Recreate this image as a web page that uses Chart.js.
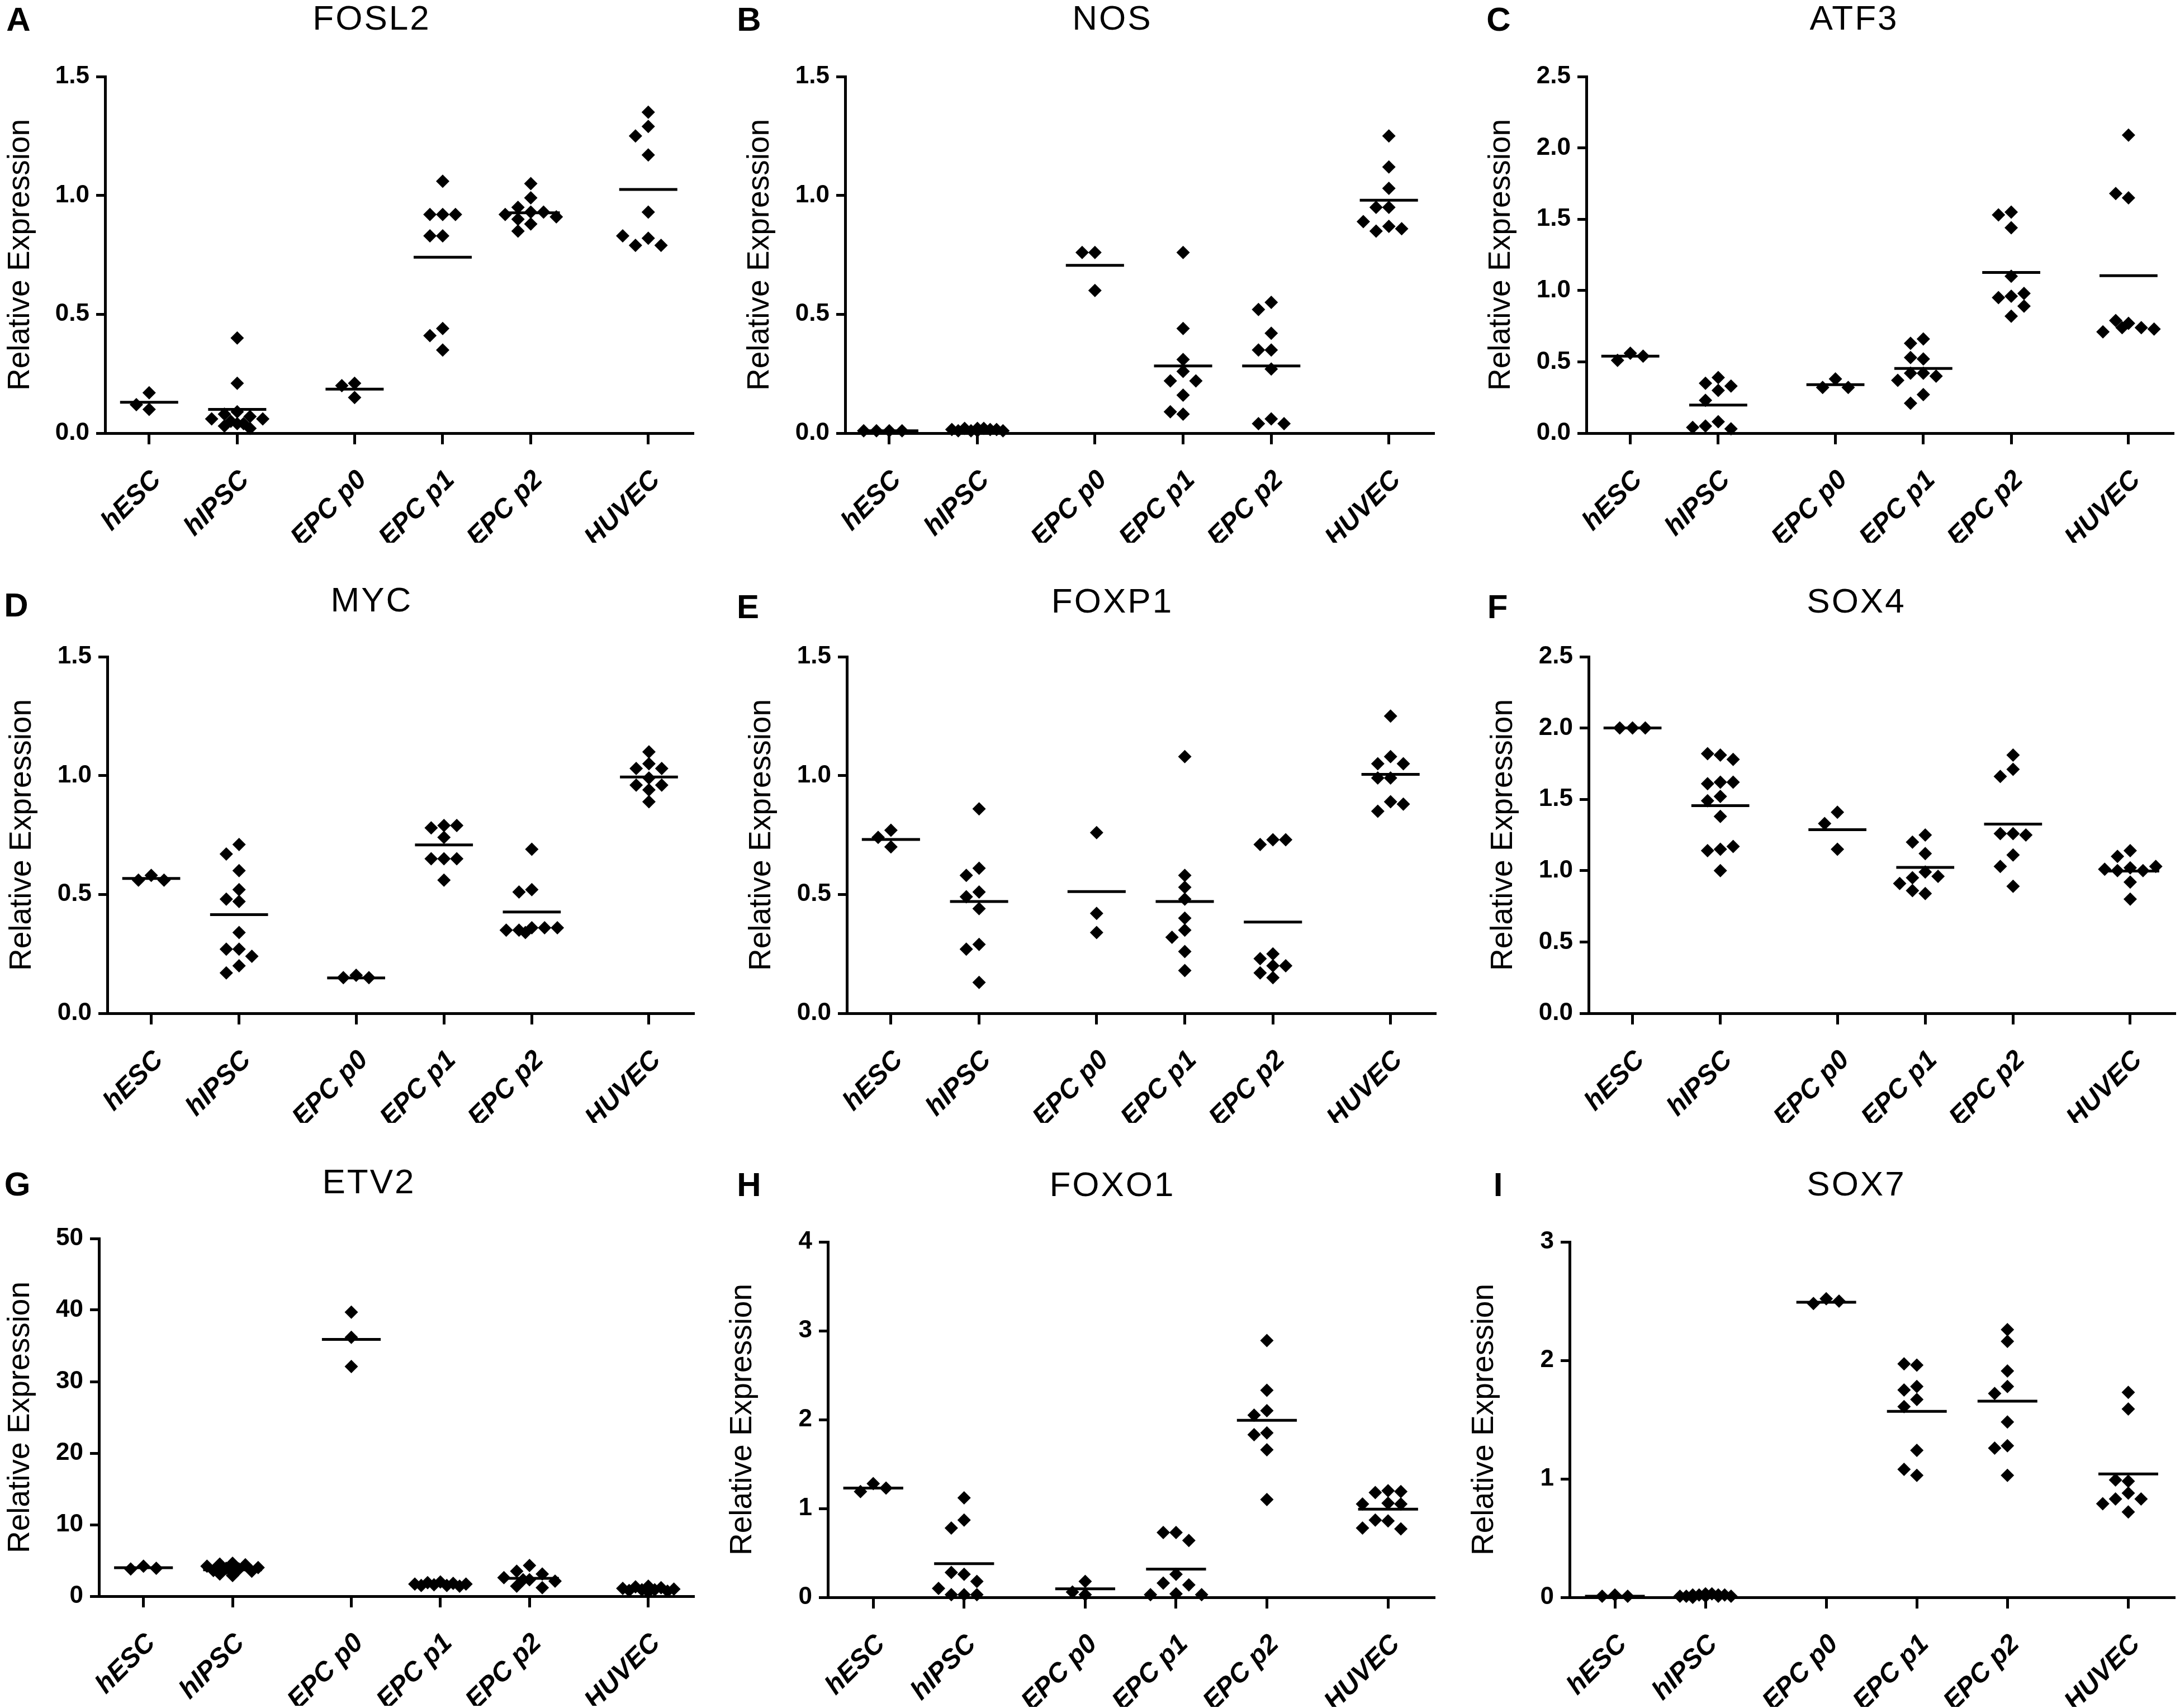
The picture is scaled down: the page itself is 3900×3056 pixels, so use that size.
<!DOCTYPE html>
<html>
<head>
<meta charset="utf-8">
<script src="https://cdn.jsdelivr.net/npm/chart.js@4.4.1/dist/chart.umd.min.js"></script>
<style>
  html, body { margin: 0; padding: 0; background: #fff; }
  body { width: 3900px; height: 3056px; position: relative; overflow: hidden; }
  canvas { position: absolute; }
  .ttl { position: absolute; transform: translate(-50%, -50%); font-family: "Liberation Sans", Arial, sans-serif;
         font-size: 62px; letter-spacing: 3px; color: #000; white-space: nowrap; }
  .lbl { position: absolute; transform: translate(-50%, -50%); font-family: "Liberation Sans", Arial, sans-serif;
         font-size: 60px; font-weight: bold; color: #000; }
</style>
</head>
<body>
<script>
// ---------------- DATA ----------------
const categories = ["hESC", "hIPSC", "EPC p0", "EPC p1", "EPC p2", "HUVEC"];
const geneNames = ["FOSL2", "NOS", "ATF3", "MYC", "FOXP1", "SOX4", "ETV2", "FOXO1", "SOX7"];
const panelLetters = ["A", "B", "C", "D", "E", "F", "G", "H", "I"];
const yAxisTitle = "Relative Expression";

const ticks15 = ["0.0", "0.5", "1.0", "1.5"];
const ticks25 = ["0.0", "0.5", "1.0", "1.5", "2.0", "2.5"];
const ticks50 = ["0", "10", "20", "30", "40", "50"];
const ticks4 = ["0", "1", "2", "3", "4"];
const ticks3 = ["0", "1", "2", "3"];

const FOSL2 = [
  [0.17, 0.10, 0.12],
  [0.40, 0.21, 0.09, 0.08, 0.07, 0.06, 0.06, 0.05, 0.04, 0.04, 0.03, 0.02],
  [0.21, 0.20, 0.15],
  [1.06, 0.92, 0.92, 0.92, 0.83, 0.83, 0.44, 0.41, 0.35],
  [1.05, 0.99, 0.95, 0.93, 0.93, 0.92, 0.91, 0.90, 0.88, 0.85],
  [1.35, 1.29, 1.25, 1.17, 0.93, 0.82, 0.79, 0.79, 0.83]
];
const FOSL2_mean = [0.13, 0.10, 0.185, 0.74, 0.927, 1.025];

const NOS = [
  [0.01, 0.01, 0.01, 0.01],
  [0.02, 0.02, 0.015, 0.015, 0.01, 0.01, 0.02, 0.01, 0.015, 0.01],
  [0.76, 0.76, 0.60],
  [0.76, 0.44, 0.31, 0.26, 0.22, 0.22, 0.16, 0.08, 0.09],
  [0.55, 0.52, 0.42, 0.35, 0.35, 0.27, 0.06, 0.04, 0.04],
  [1.25, 1.12, 1.03, 0.95, 0.95, 0.87, 0.85, 0.86, 0.89]
];
const NOS_mean = [0.01, 0.015, 0.706, 0.283, 0.283, 0.98];

const ATF3 = [
  [0.56, 0.51, 0.54],
  [0.39, 0.35, 0.30, 0.33, 0.23, 0.08, 0.05, 0.03, 0.04],
  [0.38, 0.32, 0.32],
  [0.66, 0.63, 0.52, 0.53, 0.42, 0.42, 0.40, 0.37, 0.27, 0.21],
  [1.55, 1.53, 1.44, 1.10, 0.96, 0.95, 0.98, 0.89, 0.82],
  [2.09, 1.65, 1.68, 0.77, 0.79, 0.74, 0.71, 0.73, 0.74]
];
const ATF3_mean = [0.54, 0.197, 0.34, 0.454, 1.127, 1.104];

const MYC = [
  [0.58, 0.56, 0.56],
  [0.71, 0.67, 0.60, 0.52, 0.48, 0.47, 0.34, 0.27, 0.27, 0.24, 0.20, 0.17],
  [0.16, 0.15, 0.15],
  [0.79, 0.78, 0.79, 0.74, 0.65, 0.65, 0.65, 0.56],
  [0.69, 0.52, 0.51, 0.36, 0.35, 0.36, 0.35, 0.36, 0.34],
  [1.10, 1.05, 1.03, 1.03, 0.99, 0.96, 0.96, 0.94, 0.89]
];
const MYC_mean = [0.567, 0.415, 0.149, 0.708, 0.426, 0.994];

const FOXP1 = [
  [0.77, 0.74, 0.70],
  [0.86, 0.61, 0.58, 0.51, 0.49, 0.44, 0.29, 0.27, 0.13],
  [0.76, 0.42, 0.34],
  [1.08, 0.58, 0.53, 0.48, 0.40, 0.35, 0.32, 0.26, 0.18],
  [0.73, 0.71, 0.73, 0.25, 0.20, 0.23, 0.20, 0.15, 0.17],
  [1.25, 1.08, 1.05, 1.05, 0.99, 0.99, 0.89, 0.85, 0.88]
];
const FOXP1_mean = [0.731, 0.47, 0.512, 0.47, 0.384, 1.005];

const SOX4 = [
  [2.0, 2.0, 2.0],
  [1.81, 1.82, 1.78, 1.62, 1.61, 1.62, 1.52, 1.49, 1.38, 1.15, 1.14, 1.17, 1.00],
  [1.41, 1.33, 1.15],
  [1.25, 1.20, 1.12, 0.99, 0.95, 0.96, 0.91, 0.84, 0.86],
  [1.81, 1.71, 1.66, 1.26, 1.26, 1.25, 1.11, 1.03, 0.89],
  [1.14, 1.10, 1.02, 1.00, 1.00, 1.01, 1.03, 0.92, 0.80]
];
const SOX4_mean = [2.0, 1.456, 1.287, 1.023, 1.326, 0.997];

const ETV2 = [
  [4.2, 3.8, 3.9],
  [4.6, 4.5, 4.4, 4.2, 4.0, 3.9, 3.8, 3.6, 3.5, 3.3, 3.1, 2.9],
  [39.7, 36.2, 32.1],
  [2.0, 1.9, 1.8, 1.7, 1.7, 1.6, 1.5, 1.5, 1.4],
  [4.3, 3.5, 3.1, 2.3, 2.6, 2.1, 2.3, 1.4, 1.2],
  [1.4, 1.3, 1.2, 1.1, 1.0, 0.9, 0.9, 0.8, 0.7, 0.6]
];
const ETV2_mean = [3.98, 3.7, 35.9, 1.65, 2.5, 1.0];

const FOXO1 = [
  [1.28, 1.19, 1.23],
  [1.12, 0.87, 0.78, 0.26, 0.28, 0.18, 0.03, 0.03, 0.03, 0.10],
  [0.18, 0.06, 0.03],
  [0.73, 0.73, 0.64, 0.26, 0.16, 0.14, 0.04, 0.03, 0.03],
  [2.89, 2.33, 2.10, 2.05, 1.85, 1.83, 1.66, 1.10],
  [1.20, 1.18, 1.19, 1.06, 1.05, 1.05, 0.86, 0.87, 0.77, 0.78]
];
const FOXO1_mean = [1.229, 0.379, 0.096, 0.317, 1.992, 0.992];

const SOX7 = [
  [0.02, 0.01, 0.01],
  [0.03, 0.02, 0.02, 0.01, 0.01, 0.02, 0.03, 0.01, 0.02, 0.01, 0.0, 0.01],
  [2.52, 2.48, 2.50],
  [1.96, 1.97, 1.78, 1.75, 1.67, 1.61, 1.24, 1.03, 1.08],
  [2.26, 2.16, 1.91, 1.78, 1.72, 1.48, 1.28, 1.26, 1.03],
  [1.73, 1.59, 0.98, 0.99, 0.88, 0.83, 0.83, 0.79, 0.72]
];
const SOX7_mean = [0.01, 0.015, 2.49, 1.569, 1.656, 1.041];

const panelValues = [FOSL2, NOS, ATF3, MYC, FOXP1, SOX4, ETV2, FOXO1, SOX7];
const panelMeans = [FOSL2_mean, NOS_mean, ATF3_mean, MYC_mean, FOXP1_mean, SOX4_mean, ETV2_mean, FOXO1_mean, SOX7_mean];
const panelTicks = [ticks15, ticks15, ticks25, ticks15, ticks15, ticks25, ticks50, ticks4, ticks3];

// ---------------- LAYOUT ----------------
const GROUP_POS = [1, 2, 3.333, 4.333, 5.333, 6.667];   // category positions on x (GraphPad-style gaps)
const X_MIN = 0.5, X_MAX = 7.17;
const MEAN_HALF = 0.33;
// plot rectangles [x0, x1, yTop, yBottom], title centre, letter centre
const LAYOUT = [
  { r: [188, 1245, 137, 775],   t: [665, 31],    l: [33, 34] },
  { r: [1512, 2570, 137, 775],  t: [1990, 31],   l: [1340, 34] },
  { r: [2838, 3893, 137, 775],  t: [3317, 31],   l: [2681, 34] },
  { r: [192, 1246, 1175, 1813], t: [665, 1072],  l: [29, 1082] },
  { r: [1515, 2573, 1175, 1813],t: [1990, 1074], l: [1338, 1085] },
  { r: [2842, 3896, 1175, 1813],t: [3321, 1074], l: [2679, 1085] },
  { r: [177, 1246, 2216, 2856], t: [660, 2113],  l: [31, 2118] },
  { r: [1481, 2571, 2222, 2858],t: [1990, 2118], l: [1340, 2119] },
  { r: [2808, 3895, 2222, 2858],t: [3321, 2117], l: [2680, 2119] }
];
const FONT = '"Liberation Sans", Arial, Helvetica, sans-serif';
Chart.defaults.font.family = FONT;
Chart.defaults.color = '#000';

function jitter(vals, yMax, plotW, plotH) {
  const unitPx = plotW / (X_MAX - X_MIN);
  const d = 23 / unitPx;
  const thr = 21 * yMax / plotH;
  const slots = [0, -d, d, -2 * d, 2 * d, -0.5 * d, 0.5 * d, -1.5 * d, 1.5 * d];
  const placed = [];
  return vals.map(v => {
    let best = 0, bestHits = Infinity;
    for (const s of slots) {
      const hits = placed.filter(p => p.o === s && Math.abs(p.v - v) < thr).length;
      if (hits < bestHits) { bestHits = hits; best = s; }
      if (hits === 0) break;
    }
    placed.push({ o: best, v });
    return best;
  });
}

LAYOUT.forEach((L, k) => {
  const [x0, x1, y0, y1] = L.r;
  const yTicks = panelTicks[k];
  const yVals = yTicks.map(parseFloat);
  const yMax = yVals[yVals.length - 1];
  const plotW = x1 - x0, plotH = y1 - y0;
  const left = Math.max(0, x0 - 189);
  const yW = x0 - left;
  const padTop = 40, xH = 196, padR = 6;
  const top = y0 - padTop;
  const width = plotW + yW + padR;
  const height = Math.min(plotH + padTop + xH, 3056 - top);

  const cv = document.createElement('canvas');
  cv.width = width; cv.height = height;
  cv.style.left = left + 'px'; cv.style.top = top + 'px';
  cv.style.width = width + 'px'; cv.style.height = height + 'px';
  document.body.appendChild(cv);

  const t = document.createElement('div');
  t.className = 'ttl'; t.textContent = geneNames[k];
  t.style.left = L.t[0] + 'px'; t.style.top = L.t[1] + 'px';
  document.body.appendChild(t);
  const lt = document.createElement('div');
  lt.className = 'lbl'; lt.textContent = panelLetters[k];
  lt.style.left = L.l[0] + 'px'; lt.style.top = L.l[1] + 'px';
  document.body.appendChild(lt);

  const pts = [];
  panelValues[k].forEach((vals, g) => {
    const offs = jitter(vals, yMax, plotW, plotH);
    vals.forEach((v, i) => pts.push({ x: GROUP_POS[g] + offs[i], y: v }));
  });
  const datasets = [{
    data: pts, pointStyle: 'rectRot', pointRadius: 12, pointHoverRadius: 12,
    backgroundColor: '#000', borderColor: '#000', borderWidth: 0, clip: false
  }];
  panelMeans[k].forEach((m, g) => {
    datasets.push({
      data: [{ x: GROUP_POS[g] - MEAN_HALF, y: m }, { x: GROUP_POS[g] + MEAN_HALF, y: m }],
      showLine: true, borderColor: '#000', borderWidth: 5, pointRadius: 0, pointHoverRadius: 0,
      borderCapStyle: 'butt', clip: false
    });
  });

  new Chart(cv, {
    type: 'scatter',
    data: { datasets },
    options: {
      responsive: false, animation: false, devicePixelRatio: 1,
      events: [],
      layout: { padding: { top: padTop, left: 0, right: padR, bottom: 0 } },
      plugins: { legend: { display: false }, tooltip: { enabled: false } },
      scales: {
        x: {
          type: 'linear', min: X_MIN, max: X_MAX,
          afterBuildTicks: s => { s.ticks = GROUP_POS.map(v => ({ value: v })); },
          afterFit: s => { s.height = xH; },
          ticks: {
            callback: (v, i) => categories[i], autoSkip: false, minRotation: 45, maxRotation: 45,
            font: { size: 48, weight: 'bold', style: 'italic' }, color: '#000', padding: 36, labelOffset: 14
          },
          grid: { drawOnChartArea: false, drawTicks: true, tickLength: 20, tickWidth: 5, tickColor: '#000', lineWidth: 5, color: '#000' },
          border: { display: true, width: 5, color: '#000' }
        },
        y: {
          min: 0, max: yMax,
          afterBuildTicks: s => { s.ticks = yVals.map(v => ({ value: v })); },
          afterFit: s => { s.width = yW; },
          ticks: { callback: (v, i) => yTicks[i], font: { size: 44, weight: 'bold' }, color: '#000', padding: 12 },
          grid: { drawOnChartArea: false, drawTicks: true, tickLength: 16, tickWidth: 5, tickColor: '#000', lineWidth: 5, color: '#000' },
          border: { display: true, width: 5, color: '#000' },
          title: { display: true, text: yAxisTitle, font: { size: 55, weight: 'normal' }, color: '#000', padding: { top: 4, bottom: 4 } }
        }
      }
    }
  });
});
</script>
</body>
</html>
